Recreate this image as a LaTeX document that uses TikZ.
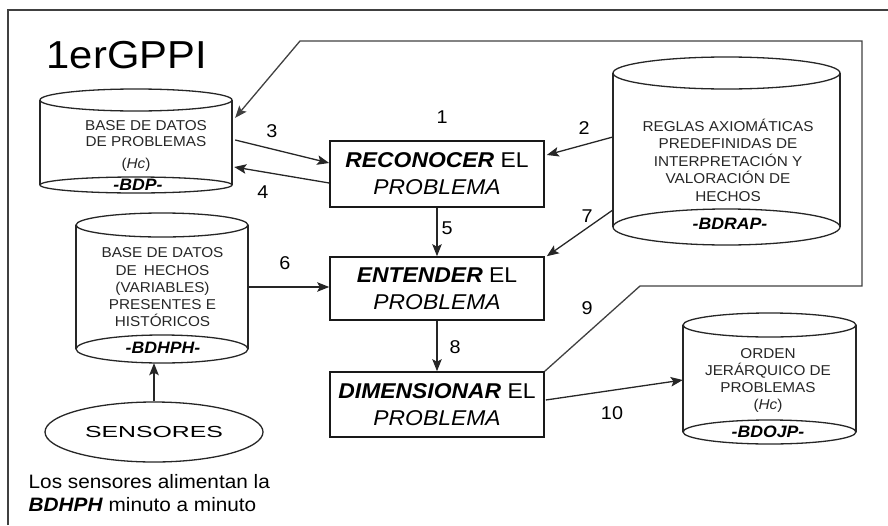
\documentclass[tikz,border=0pt]{standalone}
\usepackage{fontspec}
\setmainfont[FakeStretch=1.07]{Liberation Sans}
\usepackage{graphicx}
\usetikzlibrary{arrows.meta,calc,shapes.geometric}

% database cylinder: name, centre x, half width, top y, top y-radius, bottom y, bottom y-radius
\newcommand\dbcyl[7]{%
  \fill[white] ({#2-#3},#4) rectangle ({#2+#3},#6);
  \draw[cylline] ({#2-#3},#4) -- ({#2-#3},#6) ({#2+#3},#4) -- ({#2+#3},#6);
  \draw[cylline] (#2,#4) ellipse [x radius=#3pt, y radius=#5pt];
  \draw[cylline] (#2,#6) ellipse [x radius=#3pt, y radius=#7pt];
  \node[inner sep=0pt, minimum width={2*#3pt}, minimum height={(#6-#4)*1pt}] (#1) at (#2,{(#4+#6)/2}) {};
}

\tikzset{
  cylline/.style={line width=1.3pt, draw=black!85},
  procbox/.style={draw=black!90, line width=1.6pt, minimum width=214pt, inner sep=0pt,
                  align=center, font=\fontsize{21.4}{27}\selectfont},
  conn/.style={line width=1.3pt, draw=black!85,
               -{Stealth[length=12pt,width=9.5pt,inset=2.5pt]}},
  numlab/.style={font=\fontsize{18.5}{21}\selectfont, inner sep=0pt},
  dbtext/.style={font=\fontsize{14.3}{17}\selectfont, align=center, inner sep=0pt, text=black!85},
  dbtag/.style={font=\fontsize{16.5}{19}\selectfont\bfseries\itshape, inner sep=0pt},
  frameline/.style={line width=1.5pt, draw=black!75},
}

\begin{document}
\begin{tikzpicture}[x=1pt, y=-1pt]
\useasboundingbox (0,0) rectangle (888,525);

% outer frame
\draw[frameline] (8,525) -- (8,10) -- (888,10);

% title
\node[anchor=west, inner sep=0pt, font=\fontsize{39}{45}\selectfont] (title) at (46.5,55.5) {1erGPPI};

% databases
\dbcyl{bdp}{136}{96}{100}{11}{185}{8}
\dbcyl{bdrap}{726.5}{113.5}{73}{16}{227}{18}
\dbcyl{bdhph}{162}{86}{225}{12}{349}{14}
\dbcyl{bdojp}{769.5}{86.5}{325}{12}{432}{12}

\node[dbtext, font=\fontsize{14.3}{16}\selectfont] (bdptxt) at (146,134) {BASE DE DATOS\\DE PROBLEMAS};
\node[dbtext] (bdphc) at (136,165) {(\textit{Hc})};
\node[dbtag] (bdptag) at (138,185) {-BDP-};

\node[dbtext, font=\fontsize{14.3}{17.5}\selectfont] (bdraptxt) at (728,160)
  {REGLAS AXIOMÁTICAS\\PREDEFINIDAS DE\\INTERPRETACIÓN Y\\VALORACIÓN DE\\HECHOS};
\node[dbtag] (bdraptag) at (730,224) {-BDRAP-};

\node[dbtext, font=\fontsize{14.3}{17.25}\selectfont] (bdhphtxt) at (162.5,287.5)
  {BASE DE DATOS\\DE\enspace HECHOS\\(VARIABLES)\\PRESENTES E\\HISTÓRICOS};
\node[dbtag] (bdhphtag) at (163,348) {-BDHPH-};

\node[dbtext] (bdojptxt) at (768,380.5) {ORDEN\\JERÁRQUICO DE\\PROBLEMAS\\(\textit{Hc})};
\node[dbtag] (bdojptag) at (768,432) {-BDOJP-};

% process steps
\node[procbox, minimum height=66pt] (reco) at (437,174) {\textbf{\textit{RECONOCER}} EL\\\textit{PROBLEMA}};
\node[procbox, minimum height=63pt] (ent) at (437,288.5) {\textbf{\textit{ENTENDER}} EL\\\textit{PROBLEMA}};
\node[procbox, minimum height=65pt] (dim) at (437,404.5) {\textbf{\textit{DIMENSIONAR}} EL\\\textit{PROBLEMA}};

% sensors
\node[draw=black!85, ellipse, line width=1.3pt, inner sep=0pt, minimum width=218pt, minimum height=60pt]
  (sens) at (154,432) {\fontsize{16}{19}\selectfont\scalebox{1.45}[1]{SENSORES}};

\node[anchor=west, align=left, inner sep=0pt, font=\fontsize{19.4}{23}\selectfont] (note) at (28.5,493.5)
  {Los sensores alimentan la\\\textbf{\textit{BDHPH}} minuto a minuto};

% connectors
\draw[conn] ($(bdp.east)+(3,-2.5)$) -- ($(reco.west)+(0,-11)$);
\draw[conn] ($(reco.west)+(0,9)$) -- ($(bdp.east)+(2,24.5)$);
\draw[conn] ($(bdrap.west)+(0,-13)$) -- ($(reco.east)+(2,-19)$);
\draw[conn] ($(bdrap.west)+(0,60)$) -- ($(ent.north east)+(2,0)$);
\draw[conn] (reco.south) -- (ent.north);
\draw[conn] (bdhph.east) -- (bdhph.east -| ent.west);
\draw[conn] (ent.south) -- (dim.north);
\draw[conn] ($(dim.east)+(1,-4.5)$) -- ($(bdojp.west)+(0,1.5)$);
\draw[conn] (sens.north) -- ($(bdhph.south)+(-8,14)$);
\draw[conn, draw=black!75] (dim.north east) -- (640,286) -- (862,286) -- (862,41) -- (300,41)
  -- ($(bdp.north east)+(3,18)$);

% step numbers
\node[numlab] (n1) at (442,117) {1};
\node[numlab] (n2) at (584,128) {2};
\node[numlab] (n3) at (272,131) {3};
\node[numlab] (n4) at (263,192) {4};
\node[numlab] (n5) at (447,228) {5};
\node[numlab] (n6) at (285,263) {6};
\node[numlab] (n7) at (587,216) {7};
\node[numlab] (n8) at (455,347) {8};
\node[numlab] (n9) at (587,308) {9};
\node[numlab] (n10) at (612,413) {10};
\end{tikzpicture}
\end{document}
